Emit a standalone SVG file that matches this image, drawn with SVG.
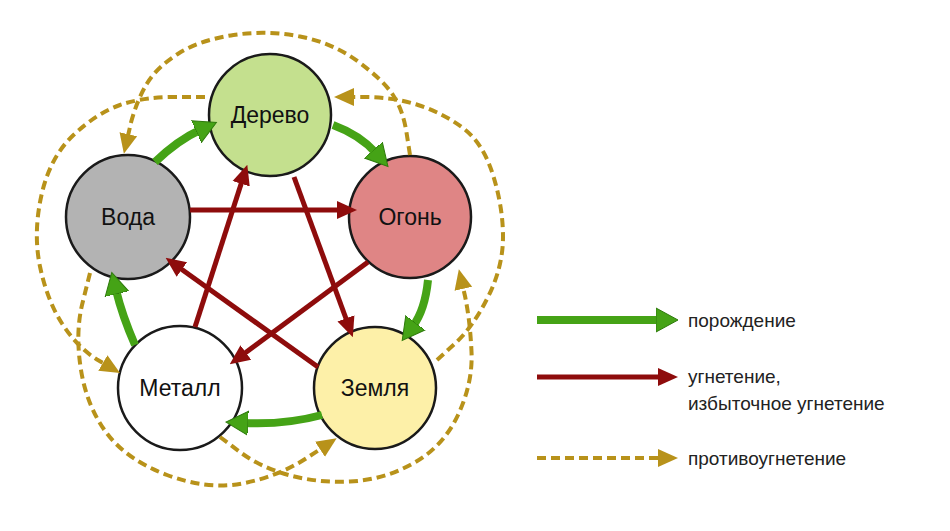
<svg xmlns="http://www.w3.org/2000/svg" width="950" height="531" viewBox="0 0 950 531">
<style>
.n{stroke:#1a1a1a;stroke-width:2.5}
.t{font-family:"Liberation Sans Narrow","Liberation Sans",sans-serif;font-size:23px;fill:#111;text-anchor:middle}
.lt{font-family:"Liberation Sans Narrow","Liberation Sans",sans-serif;font-size:19px;fill:#222}
.g{fill:none;stroke:#45a316;stroke-width:8;marker-end:url(#mg)}
.r{fill:none;stroke:#8e0c0c;stroke-width:5;marker-end:url(#mr)}
.d{fill:none;stroke:#b8921a;stroke-width:4;stroke-dasharray:9 5;marker-end:url(#md)}
</style>
<defs>
<marker id="mg" markerUnits="userSpaceOnUse" markerWidth="24" markerHeight="26" refX="4" refY="13" orient="auto"><path d="M0,1 L22,13 L0,25 Z" fill="#45a316" stroke="#2e7a0c" stroke-width="1"/></marker>
<marker id="mr" markerUnits="userSpaceOnUse" markerWidth="20" markerHeight="20" refX="6" refY="10" orient="auto"><path d="M0,1 L20,10 L0,19 Z" fill="#8e0c0c"/></marker>
<marker id="md" markerUnits="userSpaceOnUse" markerWidth="20" markerHeight="20" refX="6" refY="10" orient="auto"><path d="M0,1 L20,10 L0,19 Z" fill="#b8921a"/></marker>
</defs>
<g id="n-derevo"><circle class="n" cx="270" cy="115" r="61" fill="#c4e08e"/><text class="t" x="270" y="123">Дерево</text></g>
<g id="n-ogon"><circle class="n" cx="410" cy="217" r="61" fill="#df8585"/><text class="t" x="410" y="225">Огонь</text></g>
<g id="n-voda"><circle class="n" cx="128" cy="217" r="62" fill="#b3b3b3"/><text class="t" x="128" y="225">Вода</text></g>
<g id="n-metall"><circle class="n" cx="180" cy="388" r="62" fill="#ffffff"/><text class="t" x="180" y="396">Металл</text></g>
<g id="n-zemlya"><circle class="n" cx="375" cy="388" r="61" fill="#fdf0a8"/><text class="t" x="375" y="396">Земля</text></g>
<g id="connectors">
<path class="g" d="M155,162 Q178,140 200,130"/>
<path class="g" d="M333,125 Q360,135 376,153"/>
<path class="g" d="M428,280 Q425,310 413,326"/>
<path class="g" d="M322,415 Q285,425 244,423"/>
<path class="g" d="M135,345 Q122,315 116,290"/>
<path class="r" d="M190,210 L343,210"/>
<path class="r" d="M294,177 L348,324"/>
<path class="r" d="M368,262 L241,356"/>
<path class="r" d="M318,367 L177,266"/>
<path class="r" d="M195,327 L243,178"/>
<path class="d" d="M410,155 L406.5,132.5 Q403,110 393,95 Q383,80 358,61.5 Q333,43 300,36.5 Q267,30 233.5,35 Q200,40 178.5,53.5 Q157,67 147,83.5 Q137,100 131,122.5 L127,140"/>
<path class="d" d="M205,97 L174,97 Q143,97 120,105 Q97,113 73.5,135 Q50,157 41.5,195 Q33,233 40,266.5 Q47,300 62,323.5 Q77,347 97,359.5 L108,366"/>
<path class="d" d="M90,273 L82.5,303 Q75,333 81,370 Q87,407 107,433.5 Q127,460 167,475 Q207,490 242,483.5 Q277,477 306,458.5 L325,446"/>
<path class="d" d="M220,437 L240,452 Q260,467 288.5,475 Q317,483 350,481.5 Q383,480 413,463.5 Q443,447 458,415 Q473,383 471.5,351.5 Q470,320 465,296 L462,283"/>
<path class="d" d="M437,360 L455,343.5 Q473,327 488,297 Q503,267 503,237 Q503,207 493,175 Q483,143 463,128 Q443,113 418,105 Q393,97 365,97 L348,97"/>
</g>
<g id="legend">
<path class="g" d="M537,320 L660,320"/>
<text class="lt" x="688" y="327">порождение</text>
<path class="r" d="M537,377 L664,377"/>
<text class="lt" x="688" y="383">угнетение,</text>
<text class="lt" x="688" y="410">избыточное угнетение</text>
<path class="d" d="M537,458 L664,458"/>
<text class="lt" x="688" y="465">противоугнетение</text>
</g>
</svg>
